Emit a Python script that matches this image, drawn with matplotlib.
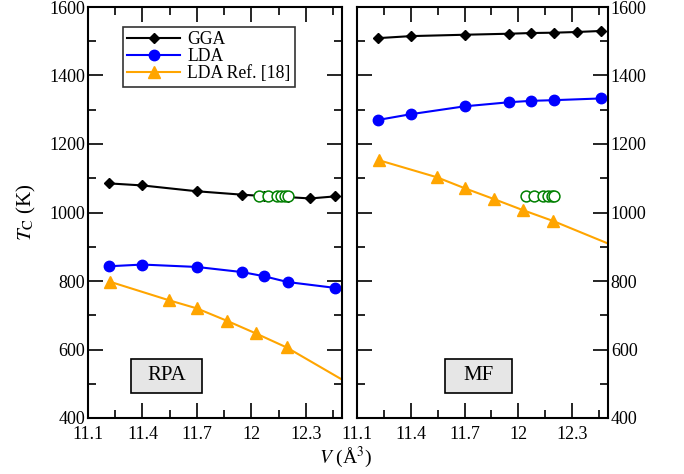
import matplotlib
matplotlib.use('Agg')
import matplotlib.pyplot as plt
import matplotlib.patches as patches
from matplotlib.ticker import MultipleLocator

plt.rcParams['font.family'] = ['Liberation Serif', 'DejaVu Serif']
plt.rcParams['mathtext.fontset'] = 'stix'

# volumes (A^3)
v_gga = [11.215, 11.40, 11.70, 11.95, 12.07, 12.20, 12.325, 12.46]
v_lda = [11.215, 11.40, 11.70, 11.95, 12.07, 12.20, 12.46]
v_ref = [11.22, 11.545, 11.70, 11.865, 12.025, 12.195, 12.53]
v_exp = [12.04, 12.09, 12.14, 12.165, 12.185, 12.20]

# RPA panel
rpa_gga = [1085, 1079, 1062, 1052, 1048, 1045, 1041, 1047]
rpa_lda = [843, 848, 841, 826, 814, 797, 780]
rpa_ref = [798, 744, 720, 684, 647, 606, 503]

# MF panel
mf_gga = [1509, 1515, 1519, 1522, 1524, 1525, 1527, 1530]
mf_lda = [1270, 1287, 1310, 1322, 1326, 1328, 1333]
mf_ref = [1153, 1103, 1071, 1039, 1007, 975, 903]

t_exp = [1047, 1047, 1047, 1047, 1047, 1047]

fig = plt.figure(figsize=(6.84, 4.74), dpi=100)
ax1 = fig.add_axes([88/684, 1-418/474, 254/684, 411/474])
ax2 = fig.add_axes([357/684, 1-418/474, 251/684, 411/474])

def draw(ax, gga, lda, ref, name, box):
    ax.plot(v_gga, gga, '-D', color='black', lw=1.5, ms=5.3, label='GGA')
    ax.plot(v_lda, lda, '-o', color='blue', lw=1.5, ms=7.5, label='LDA')
    ax.plot(v_ref, ref, '-^', color='orange', lw=1.5, ms=8, label='LDA Ref. [18]')
    ax.plot(v_exp, t_exp, 'o', mfc='white', mec='green', mew=1.1, ms=7.8, ls='none', zorder=4)
    ax.set_xlim(11.1, 12.5)
    ax.set_ylim(400, 1600)
    ax.xaxis.set_minor_locator(MultipleLocator(0.15))
    ax.yaxis.set_major_locator(MultipleLocator(200))
    ax.yaxis.set_minor_locator(MultipleLocator(100))
    ax.tick_params(which='both', direction='in', top=True, right=True,
                   width=1.2, labelsize=13, pad=2)
    ax.tick_params(axis='x', pad=6)
    ax.tick_params(which='major', length=11)
    ax.tick_params(which='minor', length=5.5)
    ax.set_xticks([11.1, 11.4, 11.7, 12.0, 12.3])
    ax.set_xticklabels(['11.1', '11.4', '11.7', '12', '12.3'])
    for s in ax.spines.values():
        s.set_linewidth(1.5)
    x0, x1, y0, y1 = box
    ax.add_patch(patches.Rectangle((x0, y0), x1 - x0, y1 - y0, transform=ax.transAxes,
                                   fc='#e6e6e6', ec='black', lw=1.2, zorder=5))
    ax.text((x0 + x1) / 2, (y0 + y1) / 2, name, transform=ax.transAxes, fontsize=15,
            ha='center', va='center', zorder=6)

draw(ax1, rpa_gga, rpa_lda, rpa_ref, 'RPA', (0.171, 0.45, 0.062, 0.1435))
draw(ax2, mf_gga, mf_lda, mf_ref, 'MF', (0.351, 0.618, 0.062, 0.1435))
ax2.tick_params(labelleft=False, labelright=True)

leg = ax1.legend(loc='upper left', bbox_to_anchor=(0.137, 0.952), fontsize=12.7,
                 frameon=True, fancybox=False, borderpad=0.25, labelspacing=0.0,
                 handlelength=3.0, handletextpad=0.4, borderaxespad=0)
leg.get_frame().set_edgecolor('black')
leg.get_frame().set_linewidth(1.2)

ax1.set_ylabel('$T_{\\rm C}$ (K)', fontsize=15, labelpad=8)
fig.text(0.505, 0.034, '$V$ (Å$^3$)', fontsize=14, ha='center', va='center')

fig.savefig('out.png', dpi=100)
